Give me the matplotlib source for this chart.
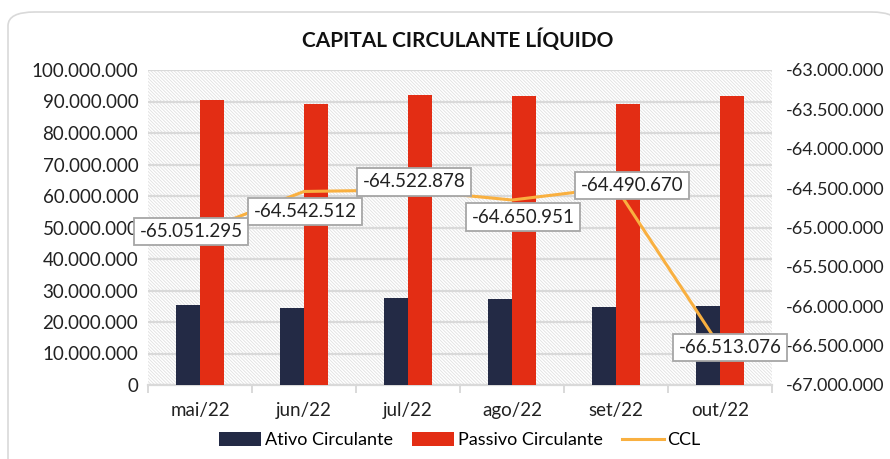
import matplotlib
matplotlib.use("Agg")
import matplotlib.pyplot as plt
import numpy as np
from matplotlib.patches import FancyBboxPatch, Rectangle
from matplotlib.ticker import FuncFormatter, MultipleLocator

plt.rcParams['font.family'] = ['Lato', 'DejaVu Sans']
plt.rcParams['hatch.color'] = '#E0E0E0'
plt.rcParams['hatch.linewidth'] = 0.6

# data
meses = ["mai/22", "jun/22", "jul/22", "ago/22", "set/22", "out/22"]
ativo = [25.3e6, 24.4e6, 27.6e6, 27.3e6, 24.8e6, 25.0e6]
passivo = [90.4e6, 89.1e6, 92.1e6, 91.9e6, 89.2e6, 91.6e6]
ccl = [-65051295, -64542512, -64522878, -64650951, -64490670, -66513076]
# label offsets (pixels) relative to each CCL point
lbl_off = [(-9, 0), (1, -20), (6, 8), (11, -17), (16, 2), (10, -1)]

c_ativo = '#232A45'
c_passivo = '#E32D14'
c_ccl = '#F9B040'


def fmt(v, pos=None):
    return f"{v:,.0f}".replace(",", ".")


fig = plt.figure(figsize=(8.9, 4.59), dpi=100)
fig.patches.append(FancyBboxPatch((8 / 890, -0.05), 1.0, 1.05 - 12 / 459,
                                  boxstyle="round,pad=0,rounding_size=0.03",
                                  transform=fig.transFigure, facecolor='white',
                                  edgecolor='#D9D9D9', linewidth=1.2, zorder=-10))

ax = fig.add_axes([148 / 890, 1 - 385 / 459, 624 / 890, 315 / 459])
ax.set_facecolor('none')
ax.add_patch(Rectangle((0, 0), 1, 1, transform=ax.transAxes, facecolor='white',
                       hatch='\\' * 10, edgecolor='#E0E0E0', linewidth=0, zorder=-5))

x = np.arange(len(meses))
w = 0.226
ax.bar(x - w / 2, ativo, w, color=c_ativo, label='Ativo Circulante', zorder=3)
ax.bar(x + w / 2, passivo, w, color=c_passivo, label='Passivo Circulante', zorder=3)

ax.set_xlim(-0.5, len(meses) - 0.5)
ax.set_ylim(0, 100e6)
ax.yaxis.set_major_locator(MultipleLocator(10e6))
ax.yaxis.set_major_formatter(FuncFormatter(fmt))
ax.grid(axis='y', color='#D9D9D9', linewidth=1.6, zorder=1)
ax.set_axisbelow(True)
for s in ['top', 'right', 'left']:
    ax.spines[s].set_visible(False)
ax.spines['bottom'].set_color('#D9D9D9')
ax.spines['bottom'].set_linewidth(1.6)
ax.set_xticks(x)
ax.set_xticklabels(meses, fontsize=13.5, color='#222222')
ax.tick_params(axis='x', length=0, pad=12)
ax.set_xticks(np.arange(len(meses) + 1) - 0.5, minor=True)
ax.tick_params(axis='x', which='minor', length=6, width=1.4, color='#D9D9D9')
ax.tick_params(axis='y', length=0, labelsize=13.5, labelcolor='#222222', pad=7)

ax2 = ax.twinx()
ax2.plot(x, ccl, color=c_ccl, linewidth=2.2, label='CCL', zorder=4)
ax2.set_ylim(-67e6, -63e6)
ax2.yaxis.set_major_locator(MultipleLocator(0.5e6))
ax2.yaxis.set_major_formatter(FuncFormatter(fmt))
ax2.tick_params(axis='y', length=0, labelsize=13, labelcolor='#222222', pad=10)
for s in ax2.spines.values():
    s.set_visible(False)

for xi, v, (dx, dy) in zip(x, ccl, lbl_off):
    ax2.annotate(fmt(v), (xi, v), xytext=(dx, dy), textcoords='offset pixels',
                 ha='center', va='center', fontsize=13.5, color='#222222', zorder=6,
                 bbox=dict(boxstyle='square,pad=0.28', facecolor='white',
                           edgecolor='#A6A6A6', linewidth=1.3))

fig.text(458 / 890, 1 - 40 / 459, "CAPITAL CIRCULANTE LÍQUIDO", ha='center', va='center',
         fontsize=15, fontweight='bold', color='#111111')

h1, l1 = ax.get_legend_handles_labels()
h2, l2 = ax2.get_legend_handles_labels()
fig.legend(h1 + h2, l1 + l2, loc='center', bbox_to_anchor=(460 / 890, 1 - 440 / 459), ncol=3,
           frameon=False, fontsize=13, handlelength=2.3, handleheight=0.8,
           handletextpad=0.2, columnspacing=1.1)

fig.savefig("out.png", dpi=100)
